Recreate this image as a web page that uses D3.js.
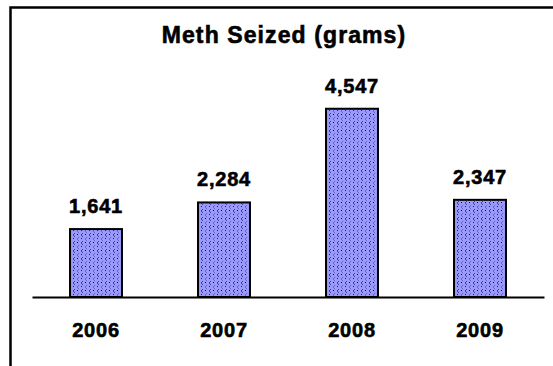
<!DOCTYPE html>
<html>
<head>
<meta charset="utf-8">
<script src="https://cdn.jsdelivr.net/npm/d3@7"></script>
<style>
  html, body { margin: 0; padding: 0; background: #fff; }
  svg { display: block; font-family: Arial, "Liberation Sans", sans-serif; }
</style>
</head>
<body>
<svg id="chart" width="553" height="366"></svg>
<script>
// Yearly totals
const years = ["2006", "2007", "2008", "2009"];
const grams = [1641, 2284, 4547, 2347];
const chartTitle = "Meth Seized (grams)";

const svg = d3.select("#chart");

// Dotted blue fill used for the bars
const defs = svg.append("defs");
const pat = defs.append("pattern")
  .attr("id", "dots")
  .attr("patternUnits", "userSpaceOnUse")
  .attr("width", 8).attr("height", 8);
pat.append("rect").attr("width", 8).attr("height", 8).attr("fill", "#9999ff");
[[2,1],[1,2],[1,3],[2,4]].forEach(([x, y]) =>
  pat.append("rect").attr("x", x).attr("y", y).attr("width", 1).attr("height", 1).attr("fill", "#44448a"));
pat.append("rect").attr("x", 5).attr("y", 2).attr("width", 1).attr("height", 1).attr("fill", "#000");
[[6,5],[5,6],[5,7],[6,0]].forEach(([x, y]) =>
  pat.append("rect").attr("x", x).attr("y", y).attr("width", 1).attr("height", 1).attr("fill", "#6a6ab0"));
pat.append("rect").attr("x", 1).attr("y", 6).attr("width", 1).attr("height", 1).attr("fill", "#222244");

// Outer frame
svg.append("rect")
  .attr("x", 10.5).attr("y", 7.5)
  .attr("width", 600).attr("height", 400)
  .attr("fill", "none").attr("stroke", "#000").attr("stroke-width", 2.5);

const x = d3.scaleBand()
  .domain(years)
  .range([32, 544])
  .paddingInner(0.594)
  .paddingOuter(0.297);

const y = d3.scaleLinear()
  .domain([0, 5000])
  .range([297, 90]);

const data = years.map((yr, i) => ({ year: yr, value: grams[i] }));

// Heavy bold text style shared by all labels
function heavy(sel, size, spacing) {
  sel.attr("font-size", size)
    .attr("font-weight", "bold")
    .attr("letter-spacing", spacing)
    .attr("fill", "#000")
    .attr("stroke", "#000")
    .attr("stroke-width", 0.6)
    .attr("paint-order", "stroke");
}

// Title
svg.append("text")
  .attr("x", 284).attr("y", 43)
  .attr("text-anchor", "middle")
  .call(heavy, 23, 1.1)
  .text(chartTitle);

// Bars
svg.append("g").selectAll("rect")
  .data(data)
  .join("rect")
  .attr("x", d => x(d.year))
  .attr("y", d => y(d.value))
  .attr("width", x.bandwidth())
  .attr("height", d => y(0) - y(d.value))
  .attr("fill", "url(#dots)")
  .attr("stroke", "#000")
  .attr("stroke-width", 2);

// Value labels
const fmt = d3.format(",");
svg.append("g").selectAll("text")
  .data(data)
  .join("text")
  .attr("x", d => x(d.year) + x.bandwidth() / 2)
  .attr("y", d => y(d.value) - 16)
  .attr("text-anchor", "middle")
  .call(heavy, 20, 0.8)
  .text(d => fmt(d.value));

// Baseline axis with year labels
const axis = svg.append("g")
  .attr("transform", `translate(0,${y(0)})`)
  .call(d3.axisBottom(x).tickSize(0).tickPadding(0));
axis.select(".domain").attr("stroke", "#000").attr("stroke-width", 2);
axis.selectAll(".tick text")
  .attr("dy", 0)
  .attr("y", 40)
  .attr("font-family", "Arial, 'Liberation Sans', sans-serif")
  .call(heavy, 20, 0.8);
</script>
</body>
</html>
